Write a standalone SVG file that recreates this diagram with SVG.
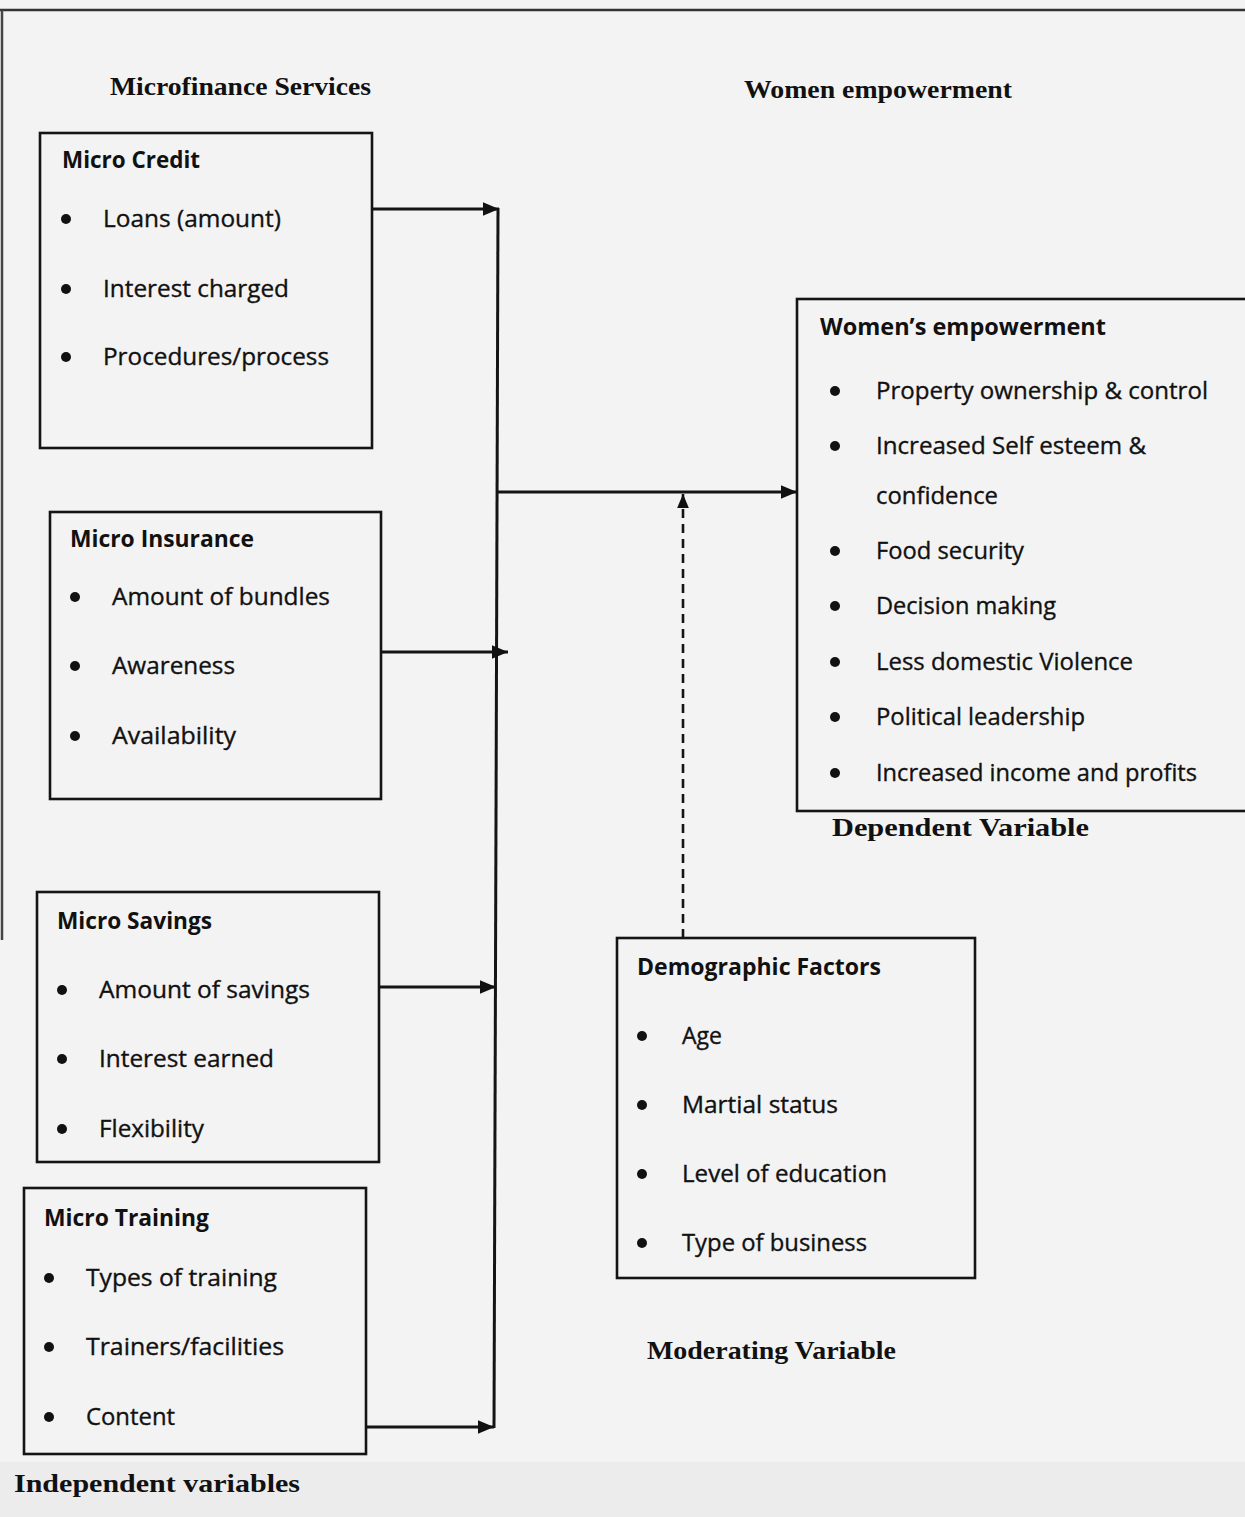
<svg xmlns="http://www.w3.org/2000/svg" width="1245" height="1517" viewBox="0 0 1245 1517">
<defs>
<marker id="ah" viewBox="0 0 10 10" refX="10" refY="5" markerWidth="5.5" markerHeight="4.6" orient="auto" markerUnits="strokeWidth" preserveAspectRatio="none">
<path d="M0,0 L10,5 L0,10 Z" fill="#111"/>
</marker>
<style>
.box{fill:none;stroke:#141414;stroke-width:2.6}
.con{fill:none;stroke:#141414;stroke-width:3}
.dash{fill:none;stroke:#141414;stroke-width:2.6;stroke-dasharray:9 6}
.t{font-family:"Open Sans","Noto Sans","Liberation Sans",sans-serif;font-size:24px;fill:#111;stroke:#111;stroke-width:0.35}
.h{font-family:"Open Sans","Noto Sans","Liberation Sans",sans-serif;font-size:24px;font-weight:bold;fill:#111}
.s{font-family:"Liberation Serif","Times New Roman",serif;font-size:26px;font-weight:bold;fill:#111}
.b{fill:#111}
</style>
</defs>
<rect x="0" y="0" width="1245" height="1517" fill="#f3f3f3"/>
<rect x="0" y="1462" width="1245" height="55" fill="#ececec"/>
<line x1="0" y1="10" x2="1245" y2="10" stroke="#333" stroke-width="2.5"/>
<line x1="2" y1="10" x2="2" y2="940" stroke="#444" stroke-width="2.5"/>

<g id="labels">
<text class="s" x="110" y="95" textLength="261" lengthAdjust="spacingAndGlyphs">Microfinance Services</text>
<text class="s" x="744" y="98" textLength="268" lengthAdjust="spacingAndGlyphs">Women empowerment</text>
<text class="s" x="832" y="836" textLength="257" lengthAdjust="spacingAndGlyphs">Dependent Variable</text>
<text class="s" x="647" y="1359" textLength="249" lengthAdjust="spacingAndGlyphs">Moderating Variable</text>
<text class="s" x="14" y="1492" textLength="286" lengthAdjust="spacingAndGlyphs">Independent variables</text>
</g>

<g id="micro-credit">
<rect class="box" x="40" y="133" width="332" height="315"/>
<text class="h" x="62" y="168" textLength="138" lengthAdjust="spacingAndGlyphs">Micro Credit</text>
<circle class="b" cx="66" cy="219" r="5"/><text class="t" x="103" y="227" textLength="178" lengthAdjust="spacingAndGlyphs">Loans (amount)</text>
<circle class="b" cx="66" cy="289" r="5"/><text class="t" x="103" y="297" textLength="186" lengthAdjust="spacingAndGlyphs">Interest charged</text>
<circle class="b" cx="66" cy="357" r="5"/><text class="t" x="103" y="365" textLength="226" lengthAdjust="spacingAndGlyphs">Procedures/process</text>
</g>

<g id="micro-insurance">
<rect class="box" x="50" y="512" width="331" height="287"/>
<text class="h" x="70" y="547" textLength="184" lengthAdjust="spacingAndGlyphs">Micro Insurance</text>
<circle class="b" cx="75" cy="597" r="5"/><text class="t" x="112" y="605" textLength="218" lengthAdjust="spacingAndGlyphs">Amount of bundles</text>
<circle class="b" cx="75" cy="666" r="5"/><text class="t" x="112" y="674" textLength="123" lengthAdjust="spacingAndGlyphs">Awareness</text>
<circle class="b" cx="75" cy="736" r="5"/><text class="t" x="112" y="744" textLength="124" lengthAdjust="spacingAndGlyphs">Availability</text>
</g>

<g id="micro-savings">
<rect class="box" x="37" y="892" width="342" height="270"/>
<text class="h" x="57" y="929" textLength="155" lengthAdjust="spacingAndGlyphs">Micro Savings</text>
<circle class="b" cx="62" cy="990" r="5"/><text class="t" x="99" y="998" textLength="211" lengthAdjust="spacingAndGlyphs">Amount of savings</text>
<circle class="b" cx="62" cy="1059" r="5"/><text class="t" x="99" y="1067" textLength="175" lengthAdjust="spacingAndGlyphs">Interest earned</text>
<circle class="b" cx="62" cy="1129" r="5"/><text class="t" x="99" y="1137" textLength="105" lengthAdjust="spacingAndGlyphs">Flexibility</text>
</g>

<g id="micro-training">
<rect class="box" x="24" y="1188" width="342" height="266"/>
<text class="h" x="44" y="1226" textLength="165" lengthAdjust="spacingAndGlyphs">Micro Training</text>
<circle class="b" cx="49" cy="1278" r="5"/><text class="t" x="86" y="1286" textLength="191" lengthAdjust="spacingAndGlyphs">Types of training</text>
<circle class="b" cx="49" cy="1347" r="5"/><text class="t" x="86" y="1355" textLength="198" lengthAdjust="spacingAndGlyphs">Trainers/facilities</text>
<circle class="b" cx="49" cy="1417" r="5"/><text class="t" x="86" y="1425" textLength="89" lengthAdjust="spacingAndGlyphs">Content</text>
</g>

<g id="womens-empowerment">
<rect class="box" x="797" y="299" width="460" height="512"/>
<text class="h" x="820" y="335" textLength="286" lengthAdjust="spacingAndGlyphs">Women’s empowerment</text>
<circle class="b" cx="835" cy="391" r="5"/><text class="t" x="876" y="399" textLength="332" lengthAdjust="spacingAndGlyphs">Property ownership &amp; control</text>
<circle class="b" cx="835" cy="446" r="5"/><text class="t" x="876" y="454" textLength="270" lengthAdjust="spacingAndGlyphs">Increased Self esteem &amp;</text>
<text class="t" x="876" y="504" textLength="122" lengthAdjust="spacingAndGlyphs">confidence</text>
<circle class="b" cx="835" cy="551" r="5"/><text class="t" x="876" y="559" textLength="148" lengthAdjust="spacingAndGlyphs">Food security</text>
<circle class="b" cx="835" cy="606" r="5"/><text class="t" x="876" y="614" textLength="180" lengthAdjust="spacingAndGlyphs">Decision making</text>
<circle class="b" cx="835" cy="662" r="5"/><text class="t" x="876" y="670" textLength="257" lengthAdjust="spacingAndGlyphs">Less domestic Violence</text>
<circle class="b" cx="835" cy="717" r="5"/><text class="t" x="876" y="725" textLength="209" lengthAdjust="spacingAndGlyphs">Political leadership</text>
<circle class="b" cx="835" cy="773" r="5"/><text class="t" x="876" y="781" textLength="321" lengthAdjust="spacingAndGlyphs">Increased income and profits</text>
</g>

<g id="demographic-factors">
<rect class="box" x="617" y="938" width="358" height="340"/>
<text class="h" x="637" y="975" textLength="244" lengthAdjust="spacingAndGlyphs">Demographic Factors</text>
<circle class="b" cx="642" cy="1036" r="5"/><text class="t" x="682" y="1044" textLength="40" lengthAdjust="spacingAndGlyphs">Age</text>
<circle class="b" cx="642" cy="1105" r="5"/><text class="t" x="682" y="1113" textLength="156" lengthAdjust="spacingAndGlyphs">Martial status</text>
<circle class="b" cx="642" cy="1174" r="5"/><text class="t" x="682" y="1182" textLength="205" lengthAdjust="spacingAndGlyphs">Level of education</text>
<circle class="b" cx="642" cy="1243" r="5"/><text class="t" x="682" y="1251" textLength="185" lengthAdjust="spacingAndGlyphs">Type of business</text>
</g>

<g id="connectors">
<line class="con" x1="498" y1="208" x2="494" y2="1428"/>
<line class="con" x1="372" y1="209" x2="499" y2="209" marker-end="url(#ah)"/>
<line class="con" x1="381" y1="652" x2="508" y2="652" marker-end="url(#ah)"/>
<line class="con" x1="379" y1="987" x2="496" y2="987" marker-end="url(#ah)"/>
<line class="con" x1="366" y1="1427" x2="494" y2="1427" marker-end="url(#ah)"/>
<line class="con" x1="496" y1="492" x2="797" y2="492" marker-end="url(#ah)"/>
<line class="dash" x1="683" y1="938" x2="683" y2="494" marker-end="url(#ah)"/>
</g>
</svg>
